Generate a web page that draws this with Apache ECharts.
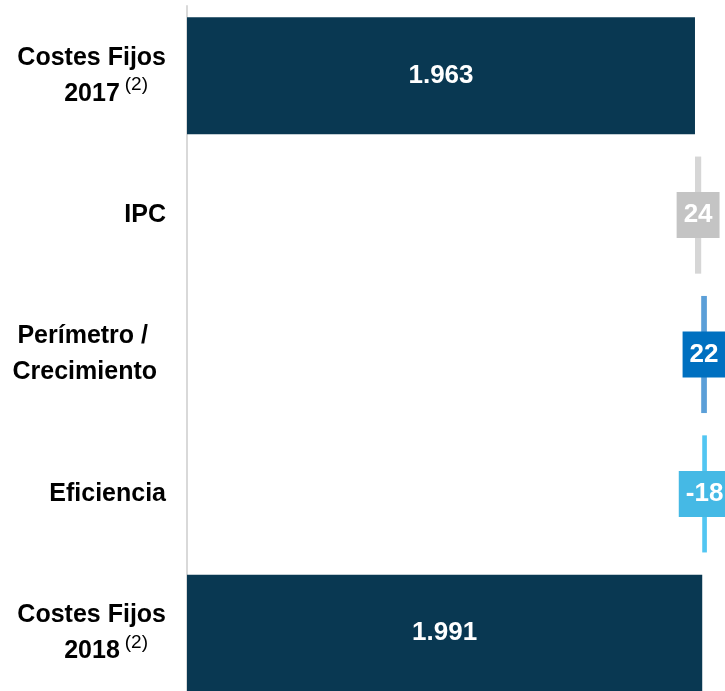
<!DOCTYPE html>
<html>
<head>
<meta charset="utf-8">
<script src="https://cdn.jsdelivr.net/npm/echarts@6/dist/echarts.min.js"></script>
<style>
  html, body { margin: 0; padding: 0; background: #fff; }
  #chart { width: 725px; height: 691px; }
</style>
</head>
<body>
<div id="chart"></div>
<script>
// waterfall data
const categories = ['Costes Fijos|2017', 'IPC', 'Perímetro /|Crecimiento', 'Eficiencia', 'Costes Fijos|2018'];
const startValue = 1963;
const changes = [24, 22, -18];
const endValue = 1991;
const barColors = ['#093852', '#d6d6d6', '#5b9fd8', '#52c6f2', '#093852'];
const boxColors = [null, '#c4c4c4', '#0070c0', '#45b9e5', null];

// build invisible base + visible part
const baseData = [0];
const showData = [startValue];
let running = startValue;
changes.forEach(c => {
  baseData.push(c >= 0 ? running : running + c);
  showData.push(Math.abs(c));
  running += c;
});
baseData.push(0);
showData.push(endValue);
const labelTexts = [startValue, ...changes, endValue].map(v =>
  Math.abs(v) >= 1000 ? String(v).replace(/(\d)(\d{3})$/, '$1.$2') : String(v)
);

const FONT = '"Liberation Sans", Arial, sans-serif';

const chart = echarts.init(document.getElementById('chart'));

const yLabel = value => {
  const parts = value.split('|');
  if (/^\d{4}$/.test(parts[1] || '')) {
    return `{b|${parts[0]}}\n{b|${parts[1]}}{s|(2)}`;
  }
  if (parts.length > 1) {
    return `{b|${parts[0]}}{p1|}\n{b|${parts[1]}}{p2|}`;
  }
  return `{b|${value}}`;
};

chart.setOption({
  animation: false,
  grid: { left: 187, right: 0, top: 6, height: 697, outerBoundsMode: 'none' },
  xAxis: {
    type: 'value',
    min: 0,
    max: 2079,
    show: false,
  },
  yAxis: {
    type: 'category',
    inverse: true,
    data: categories,
    axisLine: { show: true, lineStyle: { color: '#d9d9d9', width: 2 } },
    axisTick: { show: false },
    axisLabel: {
      margin: 21,
      align: 'right',
      formatter: yLabel,
      rich: {
        b: {
          fontFamily: FONT,
          fontWeight: 'bold',
          fontSize: 25,
          lineHeight: 36,
          color: '#000',
        },
        s: {
          fontFamily: FONT,
          fontSize: 19,
          lineHeight: 30,
          verticalAlign: 'top',
          color: '#000',
          padding: [0, 18, 0, 5],
        },
        p1: { width: 18 },
        p2: { width: 9 },
      },
    },
  },
  series: [
    {
      type: 'bar',
      stack: 'w',
      barWidth: '84%',
      itemStyle: { color: 'transparent' },
      silent: true,
      data: baseData,
    },
    {
      type: 'bar',
      stack: 'w',
      barWidth: '84%',
      data: showData.map((v, i) => ({
        value: v,
        itemStyle: { color: barColors[i] },
        label: {
          show: true,
          position: 'inside',
          formatter: () => labelTexts[i],
          color: '#fff',
          fontFamily: FONT,
          fontWeight: 'bold',
          fontSize: 26,
          backgroundColor: boxColors[i] || 'transparent',
          padding: boxColors[i] ? [10, 7] : 0,
        },
      })),
    },
  ],
});
</script>
</body>
</html>
